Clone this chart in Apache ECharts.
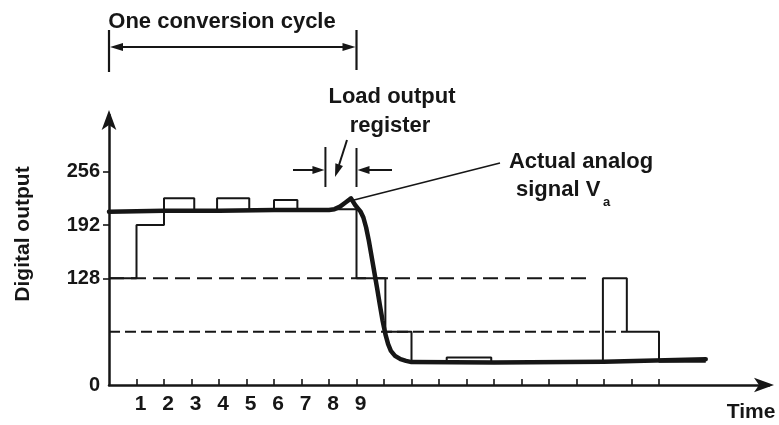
<!DOCTYPE html>
<html>
<head>
<meta charset="utf-8">
<script src="https://cdn.jsdelivr.net/npm/echarts@6/dist/echarts.min.js"></script>
<style>
  html, body { margin: 0; padding: 0; background: #fff; }
  #chart { width: 779px; height: 425px; }
</style>
</head>
<body>
<div id="chart"></div>
<script>
// Successive-approximation converter: DAC trial output vs. the analog input.
var xTickValues = [1, 2, 3, 4, 5, 6, 7, 8, 9, 10, 11, 12, 13, 14, 15, 16, 17, 18, 19, 20];
var xLabelValues = [1, 2, 3, 4, 5, 6, 7, 8, 9];
var yLabelValues = [0, 128, 192, 256];
var yTickValues = [128, 192, 256];

// DAC trial level held from stepTimes[i] until stepTimes[i + 1]
var stepTimes  = [0, 1, 2, 3.1, 3.93, 5.1, 6.0, 6.85, 9.0, 10.05, 11.0, 12.28, 13.9, 17.96, 18.83, 20.0, 21.7];
var stepLevels = [128, 192, 224, 209, 224, 210, 222, 211, 128, 64, 27, 33, 27, 128, 64, 28];

// Analog input V_a
var analogTimes  = [0, 2, 4, 6, 8, 8.2, 8.4, 8.6, 8.8, 8.95, 9.05, 9.15, 9.25, 9.35, 9.45, 9.55, 9.65, 9.75, 9.85, 9.95, 10.05, 10.15, 10.25, 10.4, 10.6, 10.8, 11.0, 14, 18, 21.7];
var analogValues = [208, 209, 209, 210, 210, 211, 214, 219, 224, 216, 212, 208, 201, 189, 173, 154, 135, 116, 96, 77, 61, 49, 41, 35, 31, 29, 27.5, 27, 28, 31];

// Reference levels (dashed)
var halfScaleLevel = 128, halfScaleEnd = 17.6;
var quarterScaleLevel = 64, quarterScaleEnd = 18.83;

var INK = '#161616';
var FONT = 'Liberation Sans, Arial, sans-serif';

function stepPoints(times, levels) {
  var pts = [];
  for (var i = 0; i < levels.length; i++) {
    pts.push([times[i], levels[i]]);
    pts.push([times[i + 1], levels[i]]);
  }
  return pts;
}
function zip(a, b) { return a.map(function (v, i) { return [v, b[i]]; }); }

var chart = echarts.init(document.getElementById('chart'), null, { renderer: 'canvas' });

chart.setOption({
  animation: false,
  backgroundColor: '#fff',
  grid: { left: 109, top: 115, width: 660, height: 270, containLabel: false },
  xAxis: {
    type: 'value', min: 0, max: 24, interval: 1,
    axisLine: { show: true, symbol: ['none', 'arrow'], symbolSize: [11, 20], symbolOffset: [0, 5],
      lineStyle: { color: INK, width: 2.5 } },
    axisTick: { show: true, inside: true, length: 6, customValues: xTickValues,
      lineStyle: { color: INK, width: 1.6 } },
    axisLabel: { show: true, customValues: xLabelValues, margin: 9, padding: [0, 0, 0, 8],
      color: INK, fontFamily: FONT, fontWeight: 'bold', fontSize: 21 },
    splitLine: { show: false }
  },
  yAxis: {
    type: 'value', min: 0, max: 324,
    axisLine: { show: true, symbol: ['none', 'arrow'], symbolSize: [11, 20], symbolOffset: [0, 5],
      lineStyle: { color: INK, width: 2.5 } },
    axisTick: { show: true, inside: false, length: 6, customValues: yTickValues,
      lineStyle: { color: INK, width: 1.6 } },
    axisLabel: { show: true, customValues: yLabelValues, margin: 9,
      color: INK, fontFamily: FONT, fontWeight: 'bold', fontSize: 20 },
    splitLine: { show: false }
  },
  series: [
    {
      name: 'half-scale', type: 'line', symbol: 'none', silent: true,
      data: [[0, halfScaleLevel], [halfScaleEnd, halfScaleLevel]],
      lineStyle: { color: INK, width: 2, type: [15, 7] }, z: 2
    },
    {
      name: 'quarter-scale', type: 'line', symbol: 'none', silent: true,
      data: [[0, quarterScaleLevel], [quarterScaleEnd, quarterScaleLevel]],
      lineStyle: { color: INK, width: 2, type: [11, 5] }, z: 2
    },
    {
      name: 'DAC output', type: 'line', symbol: 'none', silent: true,
      data: stepPoints(stepTimes, stepLevels),
      lineStyle: { color: INK, width: 2 }, z: 3
    },
    {
      name: 'V_a', type: 'line', symbol: 'none', silent: true, smooth: false,
      data: zip(analogTimes, analogValues),
      lineStyle: { color: INK, width: 4.5, cap: 'round', join: 'round' }, z: 4
    }
  ]
});

// Annotations drawn around the plot
function px(x, y) { return chart.convertToPixel({ gridIndex: 0 }, [x, y]); }

function arrowHead(tipX, tipY, dirX, dirY, len, half) {
  var bx = tipX - dirX * len, by = tipY - dirY * len;
  var nx = -dirY, ny = dirX;
  return {
    type: 'polygon', silent: true,
    shape: { points: [[tipX, tipY], [bx + nx * half, by + ny * half], [bx - nx * half, by - ny * half]] },
    style: { fill: INK }
  };
}
function seg(x1, y1, x2, y2, w) {
  return { type: 'line', silent: true, shape: { x1: x1, y1: y1, x2: x2, y2: y2 },
    style: { stroke: INK, lineWidth: w || 2 } };
}
function label(text, x, y, size, align) {
  return { type: 'text', silent: true, x: x, y: y,
    style: { text: text, fill: INK, font: 'bold ' + size + 'px ' + FONT,
      align: align || 'center', verticalAlign: 'middle' } };
}

var cycleStart = px(0, 0)[0], cycleEnd = px(9, 0)[0];
var loadLeft = px(7.87, 0)[0], loadRight = cycleEnd;
var humpPt = px(8.8, 224);

var g = [];
// One conversion cycle bracket
g.push(seg(cycleStart, 30, cycleStart, 72, 2.2));
g.push(seg(cycleEnd, 30, cycleEnd, 70, 2.2));
g.push(seg(cycleStart + 10, 47, cycleEnd - 10, 47, 2));
g.push(arrowHead(cycleStart + 1, 47, -1, 0, 13, 4));
g.push(arrowHead(cycleEnd - 1, 47, 1, 0, 13, 4));
g.push(label('One conversion cycle', 222, 22, 22));

// Load output register window
g.push(seg(loadLeft, 147, loadLeft, 187, 2));
g.push(seg(loadRight, 148, loadRight, 187, 2));
g.push(seg(293, 170, loadLeft - 10, 170, 2));
g.push(arrowHead(loadLeft - 1, 170, 1, 0, 12, 4));
g.push(seg(392, 170, loadRight + 10, 170, 2));
g.push(arrowHead(loadRight + 1, 170, -1, 0, 12, 4));
g.push(seg(347, 140, 339, 165, 2));
g.push(arrowHead(335, 177, -0.32, 0.95, 13, 4));
g.push(label('Load output', 392, 97, 22));
g.push(label('register', 390, 126, 22));

// Analog signal callout
g.push(seg(humpPt[0] + 2, humpPt[1] + 2, 500, 163, 1.6));
g.push(label('Actual analog', 581, 162, 22));
g.push({ type: 'text', silent: true, x: 516, y: 190,
  style: { text: 'signal V', fill: INK, font: 'bold 22px ' + FONT, align: 'left', verticalAlign: 'middle' } });
g.push({ type: 'text', silent: true, x: 603, y: 202,
  style: { text: 'a', fill: INK, font: 'bold 13px ' + FONT, align: 'left', verticalAlign: 'middle' } });

// Vertical axis caption
g.push({ type: 'text', silent: true, x: 23, y: 234, rotation: Math.PI / 2,
  style: { text: 'Digital output', fill: INK, font: 'bold 21px ' + FONT, align: 'center', verticalAlign: 'middle' } });

// Time axis caption
g.push(label('Time', 751, 412, 21));

chart.setOption({ graphic: { elements: g } });
</script>
</body>
</html>
